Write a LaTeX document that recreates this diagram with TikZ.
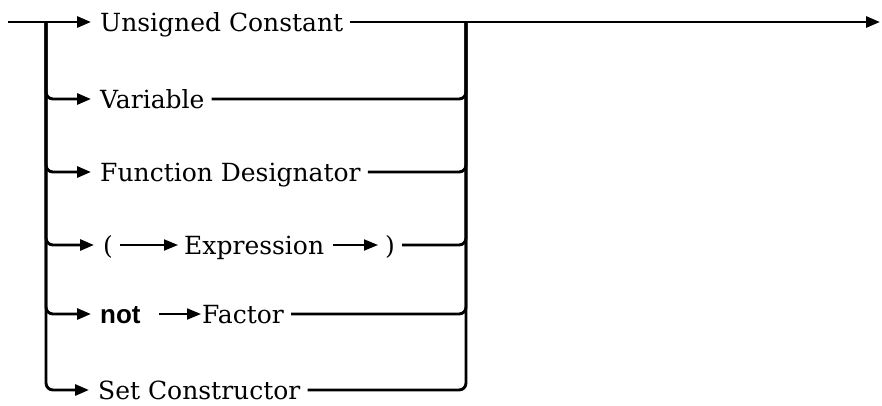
\documentclass[tikz,border=0pt]{standalone}
\usepackage{fontspec}
\setmainfont{DejaVu Serif}
\newfontfamily\notfont{Liberation Sans}
\usetikzlibrary{arrows.meta}
\begin{document}
\begin{tikzpicture}[x=1pt,y=1pt,
  conn/.style={line width=2.9pt},
  thinconn/.style={line width=1.9pt},
  tip/.style={-{Triangle[length=14pt,width=11pt]}},
  lbl/.style={inner sep=0pt, anchor=west, font=\fontsize{25}{29}\selectfont, text height=18pt, text depth=0pt}]
\useasboundingbox (0,0) rectangle (882,-405);
\coordinate (in) at (8,-22);
\coordinate (LB) at (46,-22);
\coordinate (RB) at (466,-22);
\coordinate (out) at (880,-22);
\node[lbl] (uc) at (100,-22) {Unsigned Constant};
\node[lbl] (var) at (100,-99) {Variable};
\node[lbl] (fd) at (100,-172) {Function Designator};
\node[lbl] (lp) at (103,-245) {(};
\node[lbl] (ex) at (184,-245) {Expression};
\node[lbl] (rp) at (385,-245) {)};
\node[lbl, font=\notfont\bfseries\fontsize{26}{30}\selectfont] (nt) at (100,-314) {not};
\node[lbl] (fa) at (202,-314) {Factor};
\node[lbl] (sc) at (98,-390) {Set Constructor};
% entry and left bus
\draw[conn,tip,shorten >=9pt] (in) -- (uc.west);
\foreach \n in {var,fd,lp,nt,sc}
  \draw[conn,tip,rounded corners=7pt,shorten >=9pt] (LB) |- (\n.west);
% right bus and exit
\draw[conn,tip,shorten <=7pt] (uc.east) -- (out);
\foreach \n in {var,fd,rp,fa,sc}
  \draw[conn,rounded corners=7pt,shorten <=7pt] (\n.east) -| (RB);
% inner arrows
\draw[thinconn,tip,shorten <=7pt,shorten >=6pt] (lp.east) -- (ex.west);
\draw[thinconn,tip,shorten <=9pt,shorten >=7pt] (ex.east) -- (rp.west);
\draw[thinconn,tip,shorten <=18pt,shorten >=1pt] (nt.east) -- (fa.west);
\end{tikzpicture}
\end{document}
